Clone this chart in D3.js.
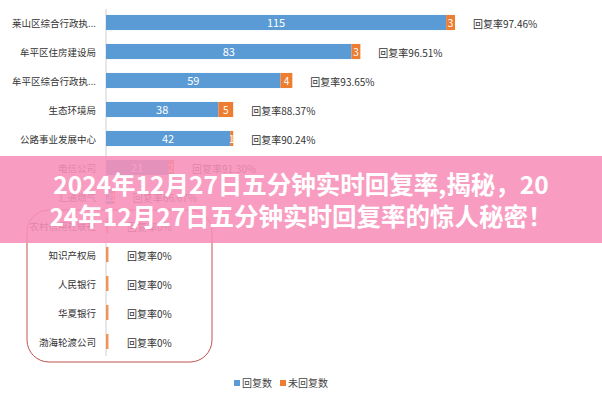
<!DOCTYPE html>
<html><head><meta charset="utf-8">
<script src="https://cdn.jsdelivr.net/npm/d3@7"></script>
<style>body{margin:0;background:#fff;font-family:"Noto Sans CJK SC",sans-serif}</style>
</head><body><svg id="c" width="602" height="400"></svg>
<script>
const categories=["莱山区综合行政执...","牟平区住房建设局","牟平区综合行政执...","生态环境局","公路事业发展中心","电信公司","汇通燃气","农村信用社联社","知识产权局","人民银行","华夏银行","渤海轮渡公司"];
const replied=[115,83,59,38,42,21,2,0,0,0,0,0];
const unreplied=[3,3,4,5,1,2,1,4,1,1,1,1];
const rates=["97.46%","96.51%","93.65%","88.37%","90.24%","91.30%","66.67%","0%","0%","0%","0%","0%"];
const seriesNames=["回复数","未回复数"];
const title=["2024年12月27日五分钟实时回复率,揭秘，20","24年12月27日五分钟实时回复率的惊人秘密！"];
const svg=d3.select("#c");
const x=d3.scaleLinear().domain([0,118]).range([106,455]);
const y=d3.scaleBand().domain(categories).range([8,356]).paddingInner(0.48).paddingOuter(0.24);
const colors=["#5b9bd5","#ed7d31"];
svg.append("line").attr("x1",106).attr("x2",106).attr("y1",9).attr("y2",356).attr("stroke","#d0d0d0");
categories.forEach((c,i)=>{
  const g=svg.append("g");
  const y0=y(c),h=y.bandwidth();
  g.append("rect").attr("x",x(0)).attr("y",y0).attr("width",x(replied[i])-x(0)).attr("height",h).attr("fill",colors[0]);
  const w=replied[i]>0?x(replied[i]+unreplied[i])-x(replied[i]):2.5;
  g.append("rect").attr("x",x(replied[i])).attr("y",y0).attr("width",w).attr("height",h).attr("fill",colors[1]).attr("opacity",replied[i]>0?1:0.8);
  if(replied[i]>0) g.append("text").attr("x",(x(0)+x(replied[i]))/2).attr("y",y0+h/2+4).attr("text-anchor","middle").attr("fill","#fff").attr("font-size",11).text(replied[i]);
  if(replied[i]>0) g.append("text").attr("x",x(replied[i])+w/2).attr("y",y0+h/2+4).attr("text-anchor","middle").attr("fill","#fff").attr("font-size",10).text(unreplied[i]);
  const lx=replied[i]>0?x(replied[i]+unreplied[i])+18:127;
  g.append("text").attr("x",lx).attr("y",y0+h/2+5).attr("font-size",10).attr("fill","#333").text("回复率"+rates[i]);
  g.append("text").attr("x",96).attr("y",y0+h/2+4).attr("text-anchor","end").attr("font-size",9.5).attr("fill","#333").text(c);
});
svg.append("rect").attr("x",27).attr("y",210).attr("width",185).attr("height",152).attr("rx",22).attr("fill","none").attr("stroke","#c0504d").attr("stroke-width",1);
const lg=svg.append("g");
[[234,0],[280,1]].forEach(([lx,i])=>{
  lg.append("rect").attr("x",lx).attr("y",380).attr("width",6).attr("height",6).attr("fill",colors[i]);
  lg.append("text").attr("x",lx+8).attr("y",387).attr("font-size",10).attr("fill","#444").text(seriesNames[i]);
});
svg.append("rect").attr("x",0).attr("y",156).attr("width",602).attr("height",87).attr("fill","#f78fb8").attr("opacity",0.88);
title.forEach((t,i)=>svg.append("text").attr("x",301).attr("y",194+i*32).attr("text-anchor","middle").attr("fill","#fff").attr("font-weight","bold").attr("font-size",24.5).text(t));
</script></body></html>
